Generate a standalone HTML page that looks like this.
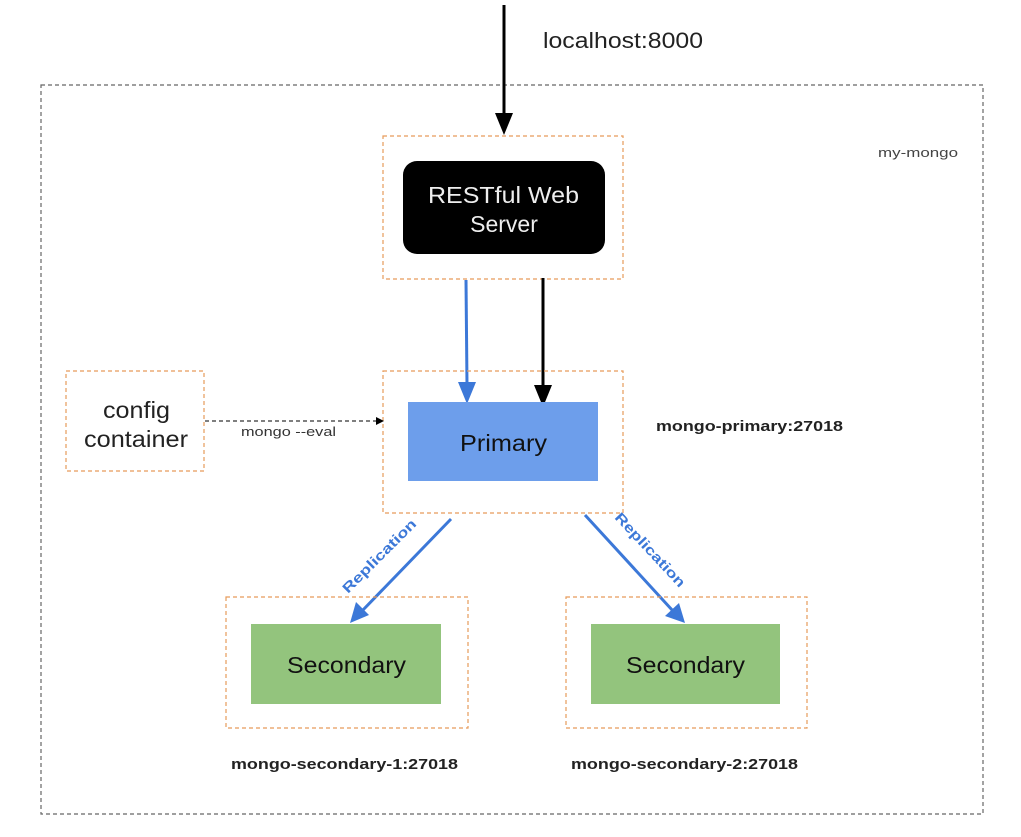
<!DOCTYPE html>
<html><head><meta charset="utf-8"><style>
html,body{margin:0;padding:0;background:#fff;}
svg{display:block;font-family:"Liberation Sans",Arial,sans-serif;}
</style></head><body>
<svg width="1021" height="837" viewBox="0 0 1021 837" xmlns="http://www.w3.org/2000/svg">
<rect x="41" y="85" width="942" height="729" fill="none" stroke="#666" stroke-width="1.2" stroke-dasharray="4,3"/>
<text x="543" y="48" font-size="22" fill="#222" textLength="160" lengthAdjust="spacingAndGlyphs">localhost:8000</text>
<text x="878" y="157" font-size="13" fill="#444" textLength="80" lengthAdjust="spacingAndGlyphs">my-mongo</text>
<line x1="504" y1="5" x2="504" y2="115" stroke="#000" stroke-width="3"/>
<polygon points="495,113 513,113 504,135" fill="#000"/>
<rect x="383" y="136" width="240" height="143" fill="none" stroke="#e69b5a" stroke-width="1.2" stroke-dasharray="4,3"/>
<rect x="403" y="161" width="202" height="93" rx="14" fill="#000"/>
<text x="428" y="203" font-size="23" fill="#eee" textLength="151" lengthAdjust="spacingAndGlyphs">RESTful Web</text>
<text x="504" y="232" font-size="23" fill="#eee" text-anchor="middle">Server</text>
<line x1="466" y1="280" x2="467" y2="385" stroke="#3c78d8" stroke-width="3"/>
<polygon points="458,382 476,382 467,404" fill="#3c78d8"/>
<line x1="543" y1="278" x2="543" y2="388" stroke="#000" stroke-width="3"/>
<polygon points="534,385 552,385 543,407" fill="#000"/>
<rect x="383" y="371" width="240" height="142" fill="none" stroke="#e69b5a" stroke-width="1.2" stroke-dasharray="4,3"/>
<rect x="408" y="402" width="190" height="79" fill="#6d9eeb"/>
<text x="460" y="451" font-size="23" fill="#111" textLength="87" lengthAdjust="spacingAndGlyphs">Primary</text>
<text x="656" y="431" font-size="15" font-weight="bold" fill="#222" textLength="187" lengthAdjust="spacingAndGlyphs">mongo-primary:27018</text>
<rect x="66" y="371" width="138" height="100" fill="none" stroke="#e69b5a" stroke-width="1.2" stroke-dasharray="4,3"/>
<text x="103" y="418" font-size="23" fill="#222" textLength="67" lengthAdjust="spacingAndGlyphs">config</text>
<text x="84" y="447" font-size="23" fill="#222" textLength="104" lengthAdjust="spacingAndGlyphs">container</text>
<line x1="205" y1="421" x2="377" y2="421" stroke="#333" stroke-width="1.2" stroke-dasharray="4,3"/>
<polygon points="376,417 384,421 376,425" fill="#000"/>
<text x="241" y="436" font-size="13" fill="#333" textLength="95" lengthAdjust="spacingAndGlyphs">mongo --eval</text>
<line x1="451" y1="519" x2="362" y2="611" stroke="#3c78d8" stroke-width="3"/>
<polygon points="350,623 356,602 369,615" fill="#3c78d8"/>
<line x1="585" y1="515" x2="673" y2="611" stroke="#3c78d8" stroke-width="3"/>
<polygon points="685,623 665,616 679,603" fill="#3c78d8"/>
<text x="0" y="0" font-size="14" font-weight="bold" fill="#3c78d8" textLength="98" lengthAdjust="spacingAndGlyphs" transform="translate(348,594) rotate(-45)">Replication</text>
<text x="0" y="0" font-size="14" font-weight="bold" fill="#3c78d8" textLength="96" lengthAdjust="spacingAndGlyphs" transform="translate(614,518) rotate(47)">Replication</text>
<rect x="226" y="597" width="242" height="131" fill="none" stroke="#e69b5a" stroke-width="1.2" stroke-dasharray="4,3"/>
<rect x="251" y="624" width="190" height="80" fill="#93c47d"/>
<text x="287" y="673" font-size="23" fill="#111" textLength="119" lengthAdjust="spacingAndGlyphs">Secondary</text>
<rect x="566" y="597" width="241" height="131" fill="none" stroke="#e69b5a" stroke-width="1.2" stroke-dasharray="4,3"/>
<rect x="591" y="624" width="189" height="80" fill="#93c47d"/>
<text x="626" y="673" font-size="23" fill="#111" textLength="119" lengthAdjust="spacingAndGlyphs">Secondary</text>
<text x="231" y="769" font-size="15" font-weight="bold" fill="#222" textLength="227" lengthAdjust="spacingAndGlyphs">mongo-secondary-1:27018</text>
<text x="571" y="769" font-size="15" font-weight="bold" fill="#222" textLength="227" lengthAdjust="spacingAndGlyphs">mongo-secondary-2:27018</text>
</svg>
</body></html>
